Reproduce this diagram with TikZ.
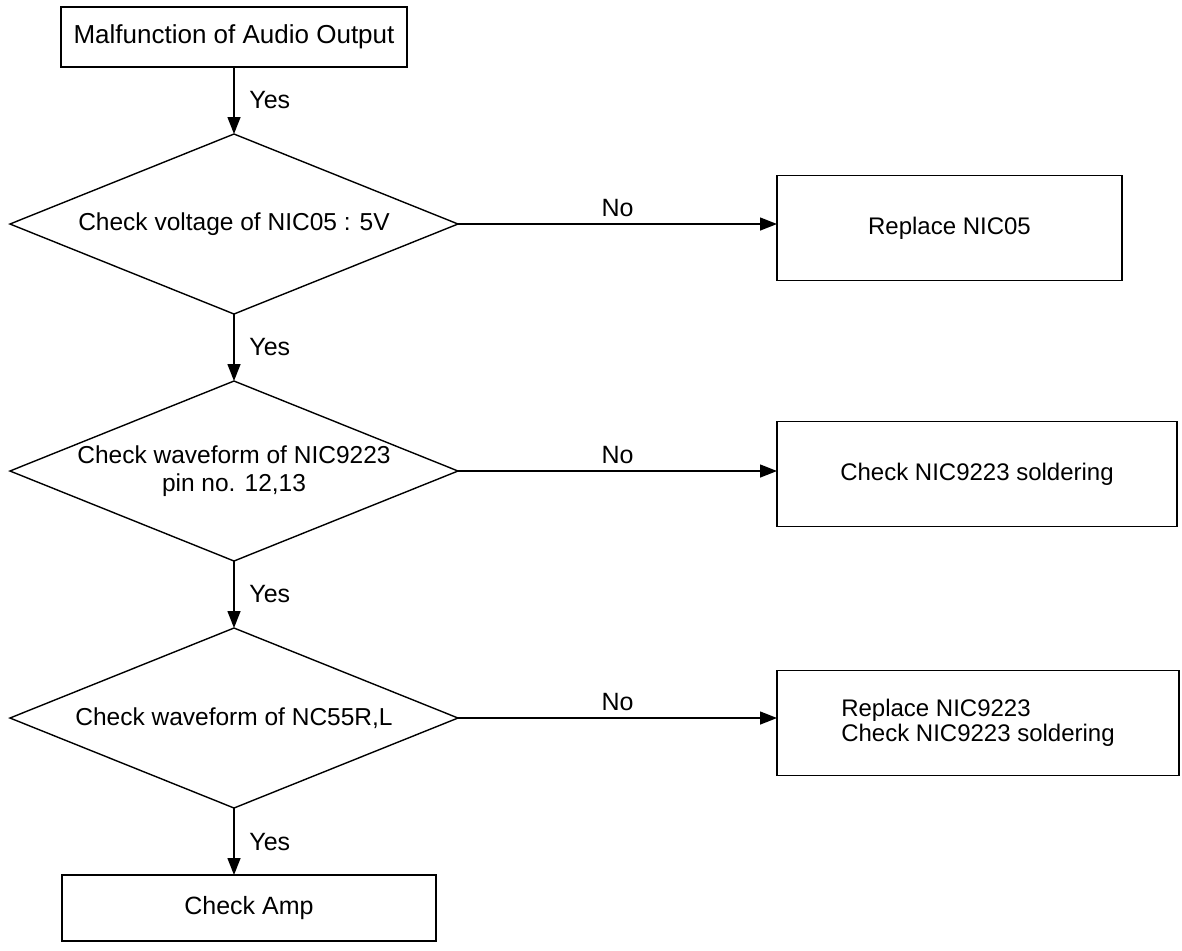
\documentclass[tikz,border=0pt]{standalone}
\usepackage{fontspec}
\setmainfont{Liberation Sans}
\usepackage{tikz}
\usetikzlibrary{shapes,arrows.meta,positioning}

\begin{document}
\begin{tikzpicture}[node distance=33.5pt, font=\fontsize{12.5}{15}\selectfont,
    box/.style={draw, rectangle, line width=0.7pt, inner sep=2pt, outer sep=0pt, text centered},
    check/.style={draw, diamond, aspect=2.5, line width=0.7pt, minimum width=224pt, minimum height=90pt, inner sep=0pt, outer sep=0pt, align=center, font=\fontsize{12.25}{14}\selectfont},
    fix/.style={box, minimum height=52.5pt, font=\fontsize{12}{12.5}\selectfont},
    flow/.style={-{Triangle[length=8.5pt,width=6.5pt]}, line width=0.7pt}]
    \useasboundingbox (0,0) rectangle (591pt,-475pt);

    % Fault to start from
    \node[box, minimum width=173pt, minimum height=30pt, font=\fontsize{13}{15}\selectfont] (start) at (117pt,-18.5pt) {Malfunction of Audio Output};

    % Checks down the left side
    \node[check, below=of start] (volt) {Check voltage of NIC05 : 5V};
    \node[check, below=of volt] (wave) {Check waveform of NIC9223\\pin no. 12,13};
    \node[check, below=of wave] (nc) {Check waveform of NC55R,L};

    % Last step
    \node[box, minimum width=187pt, minimum height=33pt, below=of nc, xshift=7.5pt] (amp) {Check Amp};

    % Repairs on the right
    \node[fix, minimum width=172.5pt, right=159.5pt of volt, yshift=-2pt] (replic) {Replace NIC05};
    \node[fix, minimum width=200pt, right=159.5pt of wave, yshift=-1.5pt] (solder) {Check NIC9223 soldering};
    \node[fix, minimum width=201pt, right=159.5pt of nc, yshift=-2.5pt, align=left] (replnic) {Replace NIC9223\\Check NIC9223 soldering};

    % Yes branches
    \draw[flow] (start) -- node[right=4pt] {Yes} (volt);
    \draw[flow] (volt) -- node[right=4pt] {Yes} (wave);
    \draw[flow] (wave) -- node[right=4pt] {Yes} (nc);
    \draw[flow] (nc) -- node[right=4pt] {Yes} (nc.south |- amp.north);

    % No branches
    \draw[flow] (volt.east) -- node[above] {No} (volt.east -| replic.west);
    \draw[flow] (wave.east) -- node[above] {No} (wave.east -| solder.west);
    \draw[flow] (nc.east) -- node[above] {No} (nc.east -| replnic.west);
\end{tikzpicture}
\end{document}
